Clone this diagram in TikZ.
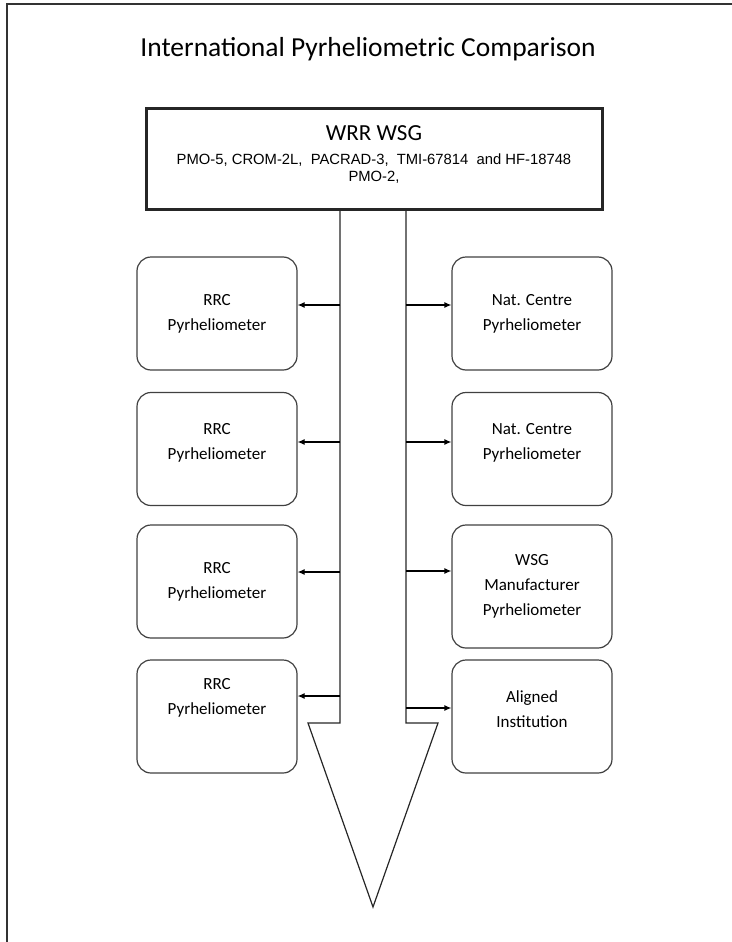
\documentclass[tikz,border=0pt]{standalone}
\usepackage{fontspec}
\setmainfont{Carlito}
\newfontfamily\listfamily{Liberation Sans}
\usetikzlibrary{arrows.meta,positioning,calc}

\begin{document}
\begin{tikzpicture}[x=1pt, y=-1pt,
    unitbox/.style={rectangle, draw=black!75, line width=1.2pt, rounded corners=14pt, minimum width=160, minimum height=113, align=center, font=\fontsize{17}{25}\selectfont},
    mainbox/.style={rectangle, draw=black!85, line width=3pt, minimum width=456, minimum height=101, align=center, font=\listfamily\fontsize{14.8}{17}\selectfont},
    link/.style={-{Latex[length=7pt,width=6pt]}, line width=1.2pt},
]
    \useasboundingbox (0,0) rectangle (731,942);
    % outer frame, cut off by the page
    \draw[line width=2pt, black!80] (7,960) -- (7,4) -- (750,4);

    \node[anchor=base] (title) at (368,57) {\fontsize{27.5}{32}\selectfont International Pyrheliometric Comparison};
    \node[mainbox, text depth=10pt] (wrr) at (374,158.5) {{\rmfamily\fontsize{23}{27}\selectfont WRR WSG}\\[7pt]PMO-5, CROM-2L,~ PACRAD-3,~ TMI-67814~ and HF-18748\\PMO-2,};

    % the big arrow
    \draw[line width=1.2pt, black!85] (340,0 |- wrr.south) -- (340,723) -- (308,723) -- (373,907) -- (438,723) -- (406,723) -- (406,0 |- wrr.south);

    % left column
    \node[unitbox] (rrc1) at (217,313.5) {RRC\\Pyrheliometer};
    \node[unitbox, text depth=15.6pt] (rrc2) at (217,449) {RRC\\Pyrheliometer};
    \node[unitbox] (rrc3) at (217,581.5) {RRC\\Pyrheliometer};
    \node[unitbox, text depth=40pt] (rrc4) at (217,716.5) {RRC\\Pyrheliometer};

    % right column
    \node[unitbox] (nat1) at (532,313.5) {Nat. Centre\\Pyrheliometer};
    \node[unitbox, text depth=15.6pt] (nat2) at (532,449) {Nat. Centre\\Pyrheliometer};
    \node[unitbox, minimum height=123] (maker) at (532,586.5) {WSG\\Manufacturer\\Pyrheliometer};
    \node[unitbox, text depth=14pt] (aligned) at (532,716.5) {Aligned\\Institution};

    % arrows off the shaft
    \coordinate (sl1) at (340,305);
    \coordinate (sl2) at (340,442);
    \coordinate (sl3) at (340,572);
    \coordinate (sl4) at (340,696);
    \coordinate (sr1) at (406,305);
    \coordinate (sr2) at (406,442);
    \coordinate (sr3) at (406,571);
    \coordinate (sr4) at (406,708);
    \draw[link] (sl1) -- (sl1 -| rrc1.east);
    \draw[link] (sl2) -- (sl2 -| rrc2.east);
    \draw[link] (sl3) -- (sl3 -| rrc3.east);
    \draw[link] (sl4) -- (sl4 -| rrc4.east);
    \draw[link] (sr1) -- (sr1 -| nat1.west);
    \draw[link] (sr2) -- (sr2 -| nat2.west);
    \draw[link] (sr3) -- (sr3 -| maker.west);
    \draw[link] (sr4) -- (sr4 -| aligned.west);
\end{tikzpicture}
\end{document}
